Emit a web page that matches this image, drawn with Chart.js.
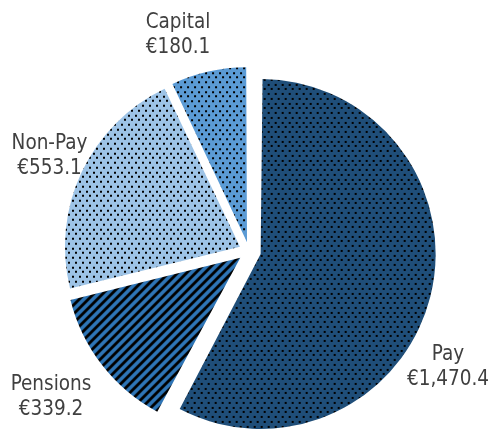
<!DOCTYPE html>
<html>
<head>
<meta charset="utf-8">
<script src="https://cdn.jsdelivr.net/npm/chart.js@4/dist/chart.umd.min.js"></script>
<style>
  html, body { margin: 0; padding: 0; background: #ffffff; }
  #wrap { width: 493px; height: 429px; }
</style>
</head>
<body>
<div id="wrap"><canvas id="chart" width="493" height="429"></canvas></div>
<script>
// Spending breakdown (€ millions)
const categories = ['Pay', 'Pensions', 'Non-Pay', 'Capital'];
const amounts = [1470.4, 339.2, 553.1, 180.1];

// Fill colours and hatch types per slice
const baseColours = ['#1f4e79', '#2e75b6', '#9dc3e6', '#5b9bd5'];
const hatchKinds = ['dots', 'stripes', 'dots', 'dots'];
// Pixel distance each slice is pulled out from the centre
const explode = [12, 11, 10, 9];
// Where each two-line label sits, relative to the pie centre (first-line baseline)
const labelAnchors = [
  { dx: 199, dy: 108.5 },
  { dx: -198, dy: 139 },
  { dx: -199.5, dy: -102 },
  { dx: -71, dy: -223 }
];

const PIE_RADIUS = 175;
const FONT = '20.5px "DejaVu Sans Condensed", "DejaVu Sans", sans-serif';
const LINE_GAP = 25;

function makeDots(bg) {
  const c = document.createElement('canvas');
  c.width = 14; c.height = 19;
  const g = c.getContext('2d');
  g.fillStyle = bg;
  g.fillRect(0, 0, c.width, c.height);
  g.fillStyle = '#000000';
  const rows = [0, 5, 9, 14];
  rows.forEach((y, i) => {
    const xs = i % 2 === 0 ? [0, 7] : [4, 11];
    xs.forEach(x => g.fillRect(x, y, 2, 2));
  });
  return g.createPattern(c, 'repeat');
}

function makeStripes(bg) {
  const size = 9;
  const c = document.createElement('canvas');
  c.width = size; c.height = size;
  const g = c.getContext('2d');
  const img = g.createImageData(size, size);
  const r = parseInt(bg.slice(1, 3), 16), gg = parseInt(bg.slice(3, 5), 16), b = parseInt(bg.slice(5, 7), 16);
  for (let y = 0; y < size; y++) {
    for (let x = 0; x < size; x++) {
      const k = (y * size + x) * 4;
      const dark = ((x + y) % size) < 4;
      img.data[k] = dark ? 0 : r;
      img.data[k + 1] = dark ? 0 : gg;
      img.data[k + 2] = dark ? 0 : b;
      img.data[k + 3] = 255;
    }
  }
  g.putImageData(img, 0, 0);
  return g.createPattern(c, 'repeat');
}

const fills = baseColours.map((col, i) =>
  hatchKinds[i] === 'stripes' ? makeStripes(col) : makeDots(col));

// Chart.js moves an arc by offset/4 and also grows its radius a little;
// undo the growth so every exploded slice keeps the same outer radius.
const evenRadius = {
  id: 'evenRadius',
  afterDatasetUpdate(chart, args) {
    const meta = chart.getDatasetMeta(args.index);
    meta.data.forEach((arc, i) => {
      const shift = explode[i];
      const fix = 1 - Math.sin(Math.min(Math.PI, arc.circumference || 0));
      arc.outerRadius = PIE_RADIUS - shift * fix;
    });
  }
};

const sliceLabels = {
  id: 'sliceLabels',
  afterDatasetsDraw(chart) {
    const ctx = chart.ctx;
    const meta = chart.getDatasetMeta(0);
    ctx.save();
    ctx.font = FONT;
    ctx.fillStyle = '#404040';
    ctx.textAlign = 'center';
    ctx.textBaseline = 'alphabetic';
    meta.data.forEach((arc, i) => {
      const a = labelAnchors[i];
      const x = arc.x + a.dx;
      const y = arc.y + a.dy;
      const valueText = '€' + amounts[i].toLocaleString('en-US', { minimumFractionDigits: 1, maximumFractionDigits: 1 });
      ctx.fillText(categories[i], x, y);
      ctx.fillText(valueText, x, y + LINE_GAP);
    });
    ctx.restore();
  }
};

new Chart(document.getElementById('chart'), {
  type: 'pie',
  data: {
    labels: categories,
    datasets: [{
      data: amounts,
      backgroundColor: fills,
      borderWidth: 0,
      offset: explode.map(v => v * 4),
      radius: PIE_RADIUS,
      clip: false
    }]
  },
  options: {
    responsive: false,
    devicePixelRatio: 1,
    animation: false,
    events: [],
    layout: { padding: { left: 5, right: 0, top: 73, bottom: 0 } },
    plugins: {
      legend: { display: false },
      tooltip: { enabled: false }
    }
  },
  plugins: [evenRadius, sliceLabels]
});
</script>
</body>
</html>
